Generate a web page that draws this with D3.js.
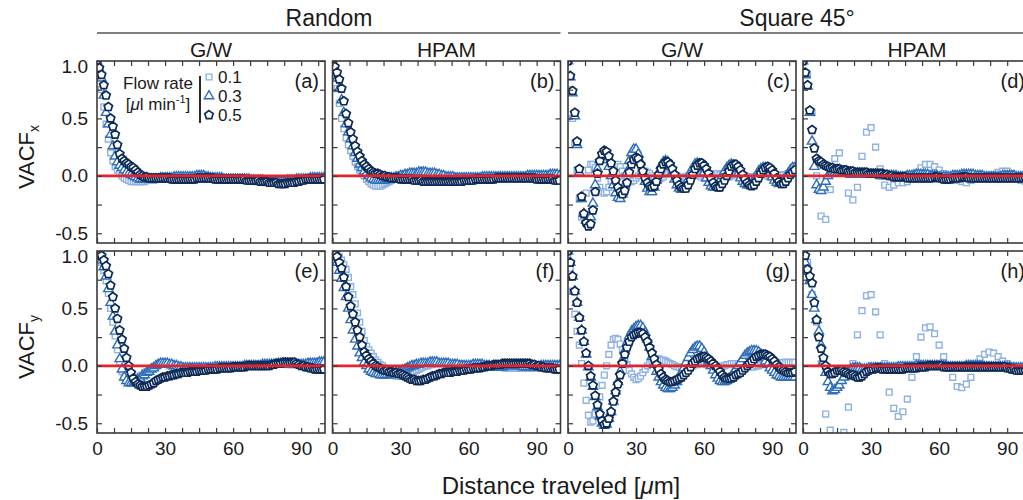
<!DOCTYPE html>
<html>
<head>
<meta charset="utf-8">
<script src="https://d3js.org/d3.v7.min.js"></script>
<style>
body { margin: 0; background: #fff; }
svg { font-family: "Liberation Sans", Arial, Helvetica, sans-serif; }
</style>
</head>
<body>
<svg id="myGraph" width="1023" height="500"></svg>
<script>

// every series is sampled on an even distance grid from 0 to 100 um
// (101 values -> 1 um apart, 51 values -> 2 um apart)
var maxDist = 100
var flowRates = ["0.1", "0.3", "0.5"]
var xTicks = [0, 30, 60, 90]
var yTicks = [-0.5, 0.0, 0.5, 1.0]

// (a) VACFx, Random, G/W
var a01 = [1, .87, .75, .6, .45, .32, .2, .13, .08, .05,
	.02, 0, -.02, -.03, -.04, -.05, -.05, -.05, -.05, -.05,
	-.05, -.05, -.04, -.04, -.04, -.04, -.03, -.03, -.03, -.03,
	-.03, -.03, -.03, -.03, -.03, -.02, -.02, -.02, -.02, -.02,
	-.02, -.02, -.02, -.02, -.02, -.02, -.03, -.03, -.03, -.03,
	-.03, -.03, -.03, -.03, -.03, -.03, -.03, -.03, -.03, -.03,
	-.03, -.03, -.03, -.03, -.04, -.04, -.04, -.04, -.04, -.04,
	-.05, -.05, -.05, -.05, -.06, -.06, -.06, -.06, -.06, -.06,
	-.06, -.06, -.05, -.05, -.05, -.05, -.04, -.04, -.04, -.04,
	-.03, -.03, -.03, -.03, -.03, -.03, -.03, -.03, -.03, -.03, -.03]
var a03 = [1, .93, .85, .7, .55, .45, .36, .26, .17, .12,
	.09, .07, .05, .03, .02, .01, 0, -.01, -.02, -.03,
	-.03, -.03, -.03, -.03, -.03, -.03, -.03, -.03, -.02, -.02,
	-.02, -.02, -.02, -.02, -.01, -.01, -.01, -.01, -.01, -.01,
	-.01, -.01, -.01, -.01, 0, 0, 0, 0, -.01, -.01,
	-.02, -.02, -.02, -.02, -.02, -.02, -.03, -.03, -.03, -.03,
	-.03, -.03, -.03, -.03, -.03, -.03, -.03, -.03, -.04, -.04,
	-.04, -.04, -.04, -.04, -.05, -.05, -.05, -.05, -.05, -.05,
	-.05, -.05, -.05, -.05, -.04, -.04, -.04, -.04, -.03, -.03,
	-.03, -.03, -.03, -.03, -.02, -.02, -.02, -.02, -.02, -.02, -.02]
var a05 = [1, .94, .88, .79, .7, .6, .5, .43, .36, .27,
	.19, .15, .13, .11, .1, .08, .07, .05, .03, .01,
	0, -.01, -.01, -.02, -.02, -.02, -.02, -.02, -.02, -.02,
	-.02, -.02, -.02, -.03, -.03, -.03, -.03, -.03, -.03, -.03,
	-.03, -.03, -.03, -.03, -.02, -.02, -.02, -.02, -.02, -.02,
	-.02, -.02, -.03, -.03, -.03, -.03, -.03, -.03, -.03, -.03,
	-.03, -.03, -.03, -.03, -.03, -.03, -.04, -.04, -.04, -.04,
	-.04, -.04, -.05, -.05, -.05, -.05, -.06, -.06, -.06, -.06,
	-.07, -.07, -.07, -.07, -.06, -.06, -.06, -.06, -.05, -.05,
	-.04, -.04, -.03, -.03, -.03, -.03, -.03, -.03, -.03, -.03, -.03]

// (b) VACFx, Random, HPAM
var b01 = [1, .88, .76, .63, .5, .41, .33, .27, .22, .17,
	.12, .08, .05, .02, 0, -.03, -.05, -.07, -.08, -.09,
	-.09, -.09, -.08, -.07, -.06, -.05, -.04, -.03, -.02, -.02,
	-.01, -.01, 0, 0, .01, .01, .02, .02, .02, .02,
	.02, .02, .02, .02, .02, .01, .01, 0, 0, 0,
	-.01, -.01, -.01, -.01, -.02, -.02, -.02, -.02, -.02, -.02,
	-.02, -.02, -.02, -.02, -.02, -.02, -.02, -.02, -.02, -.02,
	-.02, -.02, -.02, -.02, -.02, -.02, -.02, -.02, -.02, -.02,
	-.02, -.02, -.01, -.01, -.01, -.01, -.01, -.01, -.01, -.01,
	-.01, -.01, 0, 0, 0, 0, 0, 0, .01, .01, .01]
var b03 = [1, .93, .85, .76, .66, .55, .45, .38, .32, .26,
	.2, .15, .1, .07, .04, .02, 0, -.02, -.03, -.04,
	-.04, -.04, -.04, -.04, -.03, -.03, -.02, -.02, -.01, -.01,
	0, 0, .01, .01, .02, .02, .02, .02, .03, .03,
	.03, .03, .02, .02, .02, .02, .01, .01, 0, 0,
	-.01, -.01, -.01, -.01, -.02, -.02, -.02, -.02, -.02, -.02,
	-.02, -.02, -.02, -.02, -.02, -.02, -.01, -.01, -.01, -.01,
	-.01, -.01, -.01, -.01, -.01, -.01, -.01, -.01, -.01, -.01,
	-.01, -.01, -.01, -.01, -.01, -.01, 0, 0, 0, 0,
	0, 0, 0, 0, 0, 0, .01, .01, .01, .01, 0]
var b05 = [1, .95, .9, .84, .76, .65, .54, .46, .38, .32,
	.26, .21, .17, .13, .1, .08, .06, .04, .03, .02,
	.02, .01, 0, 0, -.01, -.01, -.02, -.02, -.02, -.02,
	-.03, -.03, -.03, -.03, -.03, -.03, -.04, -.04, -.04, -.04,
	-.05, -.05, -.05, -.05, -.05, -.05, -.05, -.05, -.05, -.05,
	-.05, -.05, -.05, -.05, -.05, -.05, -.05, -.05, -.04, -.04,
	-.04, -.04, -.04, -.03, -.03, -.03, -.03, -.03, -.03, -.03,
	-.03, -.03, -.02, -.02, -.02, -.02, -.02, -.02, -.02, -.02,
	-.02, -.02, -.02, -.02, -.02, -.02, -.02, -.02, -.02, -.02,
	-.03, -.03, -.03, -.03, -.03, -.03, -.03, -.03, -.04, -.04, -.04]

// (c) VACFx, Square 45, G/W
var c01 = [1, .75, .5, .28, .05, -.2, -.36, -.35, -.15, .05,
	.1, .1, .07, -.02, -.1, -.14, -.15, -.14, -.1, -.04,
	.02, .07, .1, .08, .04, 0, -.03, -.05, -.05, -.04,
	-.02, 0, .02, .03, .04, .03, .02, 0, -.02, -.03,
	-.03, -.02, -.01, .01, .02, .02, .02, .01, 0, -.01,
	-.02, -.02, -.01, 0, .01, .02, .02, .01, 0, -.01,
	-.02, -.02, -.01, 0, .01, .02, .02, .01, 0, -.01,
	-.01, -.01, 0, .01, .01, .01, .01, 0, 0, -.01,
	-.01, -.01, -.01, 0, .01, .01, .01, .01, 0, 0,
	-.01, -.01, -.01, 0, 0, .01, .01, .02, .02, .02, .02]
var c03 = [1, .86, .72, .52, .27, .03, -.2, -.33, -.39, -.4,
	-.36, -.24, -.08, .06, .14, .17, .17, .14, .08, 0,
	-.08, -.15, -.19, -.2, -.16, -.08, .03, .13, .2, .23,
	.23, .19, .12, .03, -.05, -.11, -.14, -.14, -.1, -.04,
	.03, .09, .12, .13, .12, .08, .03, -.03, -.08, -.11,
	-.12, -.11, -.08, -.03, .03, .07, .1, .11, .1, .07,
	.03, -.02, -.06, -.09, -.1, -.1, -.08, -.04, 0, .04,
	.07, .09, .1, .09, .06, .02, -.02, -.05, -.07, -.08,
	-.08, -.07, -.04, 0, .04, .06, .07, .07, .05, .02,
	-.01, -.04, -.06, -.07, -.06, -.04, -.01, .02, .05, .07, .07]
var c05 = [1, .87, .74, .55, .3, .06, -.18, -.33, -.41, -.44,
	-.42, -.3, -.14, .02, .13, .19, .22, .21, .17, .11,
	.04, -.04, -.1, -.14, -.16, -.13, -.06, .03, .1, .14,
	.16, .15, .1, .04, -.02, -.06, -.09, -.1, -.09, -.05,
	.01, .06, .1, .12, .12, .1, .06, .01, -.04, -.08,
	-.1, -.11, -.11, -.08, -.04, .01, .06, .09, .11, .11,
	.09, .06, .02, -.02, -.06, -.09, -.1, -.1, -.07, -.04,
	0, .04, .08, .1, .1, .08, .05, .01, -.03, -.06,
	-.08, -.09, -.08, -.05, -.02, .02, .05, .07, .08, .07,
	.05, .02, -.02, -.05, -.07, -.07, -.05, -.02, .01, .03, .05]

// (d) VACFx, Square 45, HPAM  (0.1 read every 2 um)
var d01 = [1, .88, .55, 0, -.35, -.38, -.12, .15, .2, .06,
	-.15, -.21, -.1, .17, .38, .42, .25, .06, -.08, -.1,
	-.08, -.06, -.06, -.05, -.02, .03, .07, .1, .1, .08,
	.05, .02, 0, -.02, -.04, -.05, -.06, -.04, -.01, 0,
	0, 0, .01, .03, .04, .04, .02, -.01, -.04, -.05, -.04]
var d03 = [1, .88, .78, .55, .3, .08, -.08, -.12, -.13, -.1,
	-.05, 0, .02, .03, .03, .02, .02, .02, .02, .02,
	.02, .01, .01, .01, .01, .01, .01, .01, .01, .01,
	.01, .01, .01, .01, 0, 0, 0, 0, 0, 0,
	0, 0, -.01, -.01, -.01, -.01, 0, 0, 0, 0,
	.01, .01, .01, .01, .01, .01, 0, 0, 0, 0,
	-.01, -.01, -.01, -.01, -.01, -.01, 0, 0, 0, 0,
	.01, .01, .01, .01, .01, .01, 0, 0, 0, 0,
	-.01, -.01, -.01, -.01, -.01, -.01, -.01, -.01, 0, 0,
	0, 0, 0, 0, -.01, -.01, -.01, -.01, -.01, -.01, -.01]
var d05 = [1, .9, .79, .57, .4, .24, .15, .13, .12, .1,
	.09, .08, .07, .07, .06, .06, .06, .05, .05, .05,
	.04, .04, .04, .03, .03, .03, .03, .03, .03, .02,
	.02, .02, .02, .02, .02, .02, .01, .01, 0, 0,
	-.01, -.01, -.01, -.01, -.01, -.01, -.02, -.02, -.02, -.02,
	-.02, -.02, -.02, -.02, -.02, -.02, -.02, -.02, -.01, -.01,
	-.02, -.02, -.03, -.03, -.03, -.03, -.02, -.02, -.02, -.02,
	-.01, -.01, -.01, -.02, -.02, -.02, -.02, -.02, -.02, -.02,
	-.02, -.02, -.02, -.02, -.02, -.02, -.02, -.02, -.02, -.02,
	-.02, -.02, -.02, -.02, -.02, -.02, -.02, -.02, -.02, -.02, -.02]

// (e) VACFy, Random, G/W
var e01 = [1, .96, .9, .83, .74, .63, .5, .38, .26, .14,
	.03, -.05, -.1, -.12, -.13, -.13, -.12, -.11, -.1, -.09,
	-.08, -.06, -.05, -.03, -.02, -.01, 0, .01, .02, .02,
	.02, .01, 0, -.01, -.02, -.03, -.03, -.03, -.03, -.03,
	-.03, -.03, -.02, -.02, -.02, -.02, -.02, -.02, -.02, -.02,
	-.02, -.01, -.01, -.01, -.01, -.01, -.01, -.01, -.01, -.01,
	-.01, -.01, 0, 0, 0, 0, 0, 0, 0, 0,
	0, 0, .01, .01, .01, .01, .01, .01, .02, .02,
	.02, .02, .02, .02, .01, .01, .01, .01, .01, .01,
	.01, .01, .02, .02, .03, .03, .03, .03, .04, .04, .04]
var e03 = [1, .96, .92, .86, .78, .67, .55, .43, .3, .18,
	.06, -.03, -.1, -.13, -.15, -.15, -.15, -.14, -.12, -.11,
	-.09, -.08, -.06, -.05, -.03, -.02, 0, .01, .02, .02,
	.02, .02, .01, .01, 0, 0, -.01, -.01, -.02, -.02,
	-.02, -.02, -.02, -.02, -.02, -.02, -.02, -.02, -.02, -.02,
	-.02, -.02, -.01, -.01, -.01, -.01, -.01, -.01, -.01, -.01,
	-.01, -.01, -.01, -.01, -.01, 0, 0, 0, 0, 0,
	0, 0, 0, .01, .01, .01, .01, .01, .01, .01,
	.02, .02, .02, .02, .01, .01, .01, .01, .01, .01,
	.01, .01, .01, .02, .02, .02, .02, .02, .03, .03, .03]
var e05 = [1, .98, .96, .92, .87, .8, .7, .6, .5, .41,
	.31, .23, .15, .07, 0, -.06, -.11, -.14, -.16, -.17,
	-.18, -.18, -.18, -.17, -.16, -.15, -.13, -.12, -.11, -.1,
	-.1, -.09, -.09, -.08, -.08, -.07, -.07, -.06, -.06, -.06,
	-.06, -.05, -.05, -.05, -.05, -.04, -.04, -.04, -.04, -.03,
	-.03, -.03, -.03, -.03, -.02, -.02, -.02, -.02, -.02, -.02,
	-.01, -.01, -.01, -.01, -.01, -.01, 0, 0, 0, 0,
	0, 0, 0, 0, 0, 0, 0, .01, .01, .02,
	.02, .02, .03, .03, .03, .03, .03, .03, .02, .01,
	0, 0, -.01, -.01, -.02, -.02, -.03, -.03, -.03, -.03, -.03]

// (f) VACFy, Random, HPAM
var f01 = [1, .99, .97, .95, .92, .88, .84, .77, .69, .62,
	.54, .46, .38, .3, .22, .17, .14, .11, .08, .05,
	.03, .01, 0, -.02, -.04, -.06, -.07, -.08, -.09, -.09,
	-.09, -.09, -.08, -.08, -.07, -.06, -.05, -.04, -.03, -.02,
	-.01, 0, 0, .01, .01, .02, .02, .02, .02, .02,
	.02, .02, .02, .02, .02, .02, .02, .01, .01, .01,
	.01, 0, 0, 0, -.01, -.01, -.01, -.01, -.01, -.01,
	-.01, -.01, -.01, -.01, -.01, -.01, -.02, -.02, -.02, -.02,
	-.02, -.02, -.02, -.02, -.02, -.02, -.02, -.02, -.02, -.02,
	-.02, -.02, -.02, -.02, -.02, -.02, -.02, -.02, -.01, -.01, -.01]
var f03 = [1, .95, .9, .83, .76, .68, .6, .5, .4, .31,
	.23, .17, .11, .07, .03, 0, -.03, -.05, -.06, -.07,
	-.07, -.08, -.08, -.08, -.08, -.08, -.07, -.07, -.06, -.06,
	-.05, -.04, -.03, -.02, -.01, 0, 0, .01, .01, .02,
	.02, .02, .02, .03, .03, .03, .03, .02, .02, .02,
	.02, .02, .01, .01, .01, .01, 0, 0, 0, 0,
	0, 0, .01, .01, .01, .01, .01, 0, 0, 0,
	-.01, -.01, -.01, -.01, -.01, -.01, 0, 0, 0, 0,
	0, 0, 0, 0, -.01, -.01, -.01, -.01, -.01, -.01,
	-.01, -.01, 0, 0, 0, 0, 0, 0, 0, 0, 0]
var f05 = [1, .98, .95, .9, .85, .77, .69, .6, .52, .45,
	.38, .31, .25, .18, .12, .09, .06, .04, .02, 0,
	-.01, -.02, -.03, -.04, -.04, -.05, -.05, -.06, -.06, -.07,
	-.07, -.08, -.09, -.1, -.11, -.12, -.12, -.13, -.13, -.13,
	-.12, -.12, -.11, -.1, -.09, -.09, -.08, -.07, -.07, -.06,
	-.06, -.06, -.06, -.05, -.05, -.05, -.04, -.04, -.04, -.03,
	-.03, -.03, -.02, -.02, -.02, -.02, -.01, -.01, 0, 0,
	0, .01, .01, .01, .01, .02, .02, .02, .02, .02,
	.02, .02, .02, .02, .02, .02, .02, .02, .01, .01,
	0, 0, -.01, -.01, -.02, -.02, -.02, -.02, -.03, -.03, -.03]

// (g) VACFy, Square 45, G/W
var g01 = [1, .85, .65, .45, .3, .18, .02, -.15, -.3, -.43,
	-.49, -.48, -.42, -.34, -.27, -.17, -.08, 0, .1, .18,
	.23, .24, .23, .19, .14, .07, .01, -.04, -.07, -.1,
	-.12, -.11, -.09, -.06, -.03, 0, .02, .04, .05, .06,
	.06, .05, .05, .04, .03, .02, .01, 0, -.01, -.01,
	-.02, -.02, -.01, -.01, 0, 0, .01, .01, .02, .02,
	.02, .01, .01, 0, 0, -.01, -.01, -.01, 0, 0,
	.01, .01, .02, .02, .02, .02, .02, .01, .01, 0,
	0, -.01, -.01, 0, 0, .01, .01, .02, .02, .02,
	.02, .02, .02, .02, .02, .03, .03, .03, .03, .03, .03]
var g03 = [1, .9, .78, .65, .55, .42, .31, .21, .1, -.01,
	-.1, -.18, -.27, -.36, -.44, -.5, -.52, -.51, -.46, -.4,
	-.31, -.22, -.14, -.05, .05, .13, .2, .26, .3, .32,
	.34, .35, .35, .33, .29, .23, .16, .08, .01, -.05,
	-.1, -.14, -.17, -.19, -.2, -.2, -.19, -.17, -.14, -.1,
	-.06, -.02, .03, .07, .11, .14, .16, .17, .17, .15,
	.12, .08, .04, 0, -.04, -.08, -.11, -.13, -.14, -.14,
	-.13, -.11, -.09, -.06, -.03, 0, .03, .06, .09, .11,
	.12, .13, .13, .13, .12, .1, .07, .04, .01, -.02,
	-.04, -.06, -.08, -.09, -.1, -.1, -.1, -.1, -.1, -.1, -.1]
var g05 = [1, .9, .78, .65, .55, .42, .31, .21, .11, 0,
	-.09, -.17, -.26, -.34, -.42, -.48, -.51, -.5, -.46, -.4,
	-.31, -.23, -.16, -.08, .02, .1, .16, .21, .25, .27,
	.28, .29, .29, .28, .25, .21, .16, .11, .06, .01,
	-.03, -.07, -.1, -.12, -.13, -.14, -.14, -.13, -.12, -.11,
	-.1, -.08, -.06, -.04, -.01, .02, .04, .06, .07, .08,
	.08, .07, .06, .04, .02, 0, -.02, -.05, -.08, -.1,
	-.11, -.11, -.11, -.1, -.08, -.07, -.06, -.04, -.02, 0,
	.02, .04, .06, .08, .09, .1, .1, .1, .09, .08,
	.06, .04, .01, -.01, -.03, -.04, -.05, -.06, -.06, -.06, -.05]

// (h) VACFy, Square 45, HPAM  (0.1 read every 2 um)
var h01 = [1, .9, .62, .38, .02, -.42, -.56, -.72, -.72, -.58,
	-.36, .02, .27, .48, .61, .62, .47, .27, .02, -.23,
	-.37, -.44, -.4, -.29, -.1, .08, .25, .33, .34, .28,
	.18, .08, -.02, -.1, -.18, -.19, -.16, -.1, -.02, .06,
	.1, .12, .11, .08, .04, .02, 0, -.01, -.01, -.01, -.01]
var h03 = [1, .9, .82, .74, .62, .5, .4, .3, .18, .04,
	-.06, -.14, -.19, -.22, -.21, -.19, -.17, -.13, -.1, -.07,
	-.05, -.03, -.02, -.02, -.02, -.02, -.03, -.03, -.03, -.02,
	-.02, -.02, -.02, -.02, -.02, -.02, -.02, -.02, -.02, -.02,
	-.02, -.02, -.01, -.01, -.01, -.01, -.01, -.01, -.01, -.01,
	0, 0, 0, 0, 0, 0, 0, 0, 0, 0,
	0, 0, 0, 0, -.01, -.01, -.01, -.01, -.01, -.01,
	-.01, -.01, 0, 0, 0, 0, 0, 0, 0, 0,
	-.01, -.01, -.01, -.01, -.01, -.01, -.01, -.01, -.01, -.01,
	-.01, -.01, -.02, -.02, -.02, -.02, -.02, -.02, -.02, -.02, -.02]
var h05 = [1, .96, .84, .78, .72, .55, .4, .25, .15, .07,
	0, -.05, -.07, -.07, -.06, -.04, -.04, -.04, -.05, -.06,
	-.07, -.08, -.08, -.09, -.1, -.1, -.09, -.07, -.05, -.04,
	-.03, -.03, -.02, -.02, -.02, -.03, -.03, -.03, -.03, -.03,
	-.03, -.03, -.03, -.03, -.03, -.02, -.02, -.02, -.02, -.02,
	-.02, -.01, -.01, -.01, -.01, 0, 0, 0, 0, 0,
	0, 0, -.01, -.01, -.01, -.01, -.01, -.01, -.01, -.01,
	-.01, -.01, -.01, -.01, -.01, -.01, -.01, -.01, -.01, -.01,
	-.01, -.01, -.01, -.01, -.01, -.01, -.01, -.01, -.01, -.01,
	-.02, -.02, -.03, -.03, -.04, -.04, -.04, -.04, -.04, -.04, -.04]

// 패널 배치
var panels = [
	{ tag: "(a)", col: 0, row: 0, series: [a01, a03, a05] },
	{ tag: "(b)", col: 1, row: 0, series: [b01, b03, b05] },
	{ tag: "(c)", col: 2, row: 0, series: [c01, c03, c05] },
	{ tag: "(d)", col: 3, row: 0, series: [d01, d03, d05] },
	{ tag: "(e)", col: 0, row: 1, series: [e01, e03, e05] },
	{ tag: "(f)", col: 1, row: 1, series: [f01, f03, f05] },
	{ tag: "(g)", col: 2, row: 1, series: [g01, g03, g05] },
	{ tag: "(h)", col: 3, row: 1, series: [h01, h03, h05] }
]

var colLeft = [97, 332.5, 568, 803]
var rowTop = [61, 251]
var panelW = 228
var panelH = 182
var frameColor = "#3a3a3a"
var textColor = "#1a1a1a"
var colors = ["#8db2e2", "#2d6dba", "#0c2a55"]

// pentagon symbol (d3 has none)
var symbolPentagon = {
	draw: function(context, size) {
		var r = Math.sqrt(size / 2.378)
		for (var k = 0; k < 5; k++) {
			var a = -Math.PI / 2 + k * 2 * Math.PI / 5
			if (k == 0) context.moveTo(r * Math.cos(a), r * Math.sin(a))
			else context.lineTo(r * Math.cos(a), r * Math.sin(a))
		}
		context.closePath()
	}
}
var symbols = [
	d3.symbol().type(d3.symbolSquare).size(34),
	d3.symbol().type(d3.symbolTriangle).size(38),
	d3.symbol().type(symbolPentagon).size(46)
]
var strokeW = [1.4, 1.4, 1.7]

var svg = d3.select("#myGraph")

panels.forEach(function(p, pi) {
	var x0 = colLeft[p.col], y0 = rowTop[p.row]
	var xScale = d3.scaleLinear().domain([0, 100.5]).range([x0, x0 + panelW])
	var yScale = d3.scaleLinear().domain([-0.585, 1.0]).range([y0 + panelH, y0])

	svg.append("clipPath").attr("id", "clip" + pi)
		.append("rect")
		.attr("x", x0).attr("y", y0)
		.attr("width", panelW).attr("height", panelH)

	var g = svg.append("g")

	// 데이터 마커
	var plot = g.append("g").attr("clip-path", "url(#clip" + pi + ")")
	p.series.forEach(function(vals, si) {
		var dx = maxDist / (vals.length - 1)
		plot.append("g")
			.selectAll("path")
			.data(vals)
			.enter()
			.append("path")
			.attr("d", symbols[si])
			.attr("transform", function(d, i) { return "translate(" + xScale(i * dx) + "," + yScale(d) + ")" })
			.attr("fill", "#fff")
			.attr("stroke", colors[si])
			.attr("stroke-width", strokeW[si])
	})

	// zero line
	plot.append("line")
		.attr("x1", xScale(0)).attr("x2", xScale(100.5))
		.attr("y1", yScale(0)).attr("y2", yScale(0))
		.attr("stroke", "#e6232b")
		.attr("stroke-width", 2.6)

	// 축
	var xTickVals = d3.range(0, 100, 7.5)
	var yTickVals = d3.range(-0.5, 1.01, 0.25)
	var showX = p.row == 1
	var showY = p.col == 0

	var bottom = d3.axisBottom(xScale).tickValues(xTickVals)
		.tickSizeInner(-5).tickSizeOuter(0).tickPadding(9)
		.tickFormat(function(d) { return showX && xTicks.indexOf(d) >= 0 ? d : "" })
	var top = d3.axisTop(xScale).tickValues(xTickVals)
		.tickSizeInner(-5).tickSizeOuter(0).tickFormat("")
	var left = d3.axisLeft(yScale).tickValues(yTickVals)
		.tickSizeInner(-5).tickSizeOuter(0).tickPadding(9)
		.tickFormat(function(d) {
			var hit = yTicks.some(function(t) { return Math.abs(t - d) < 1e-9 })
			return showY && hit ? d.toFixed(1) : ""
		})
	var right = d3.axisRight(yScale).tickValues(yTickVals)
		.tickSizeInner(-5).tickSizeOuter(0).tickFormat("")

	var axes = [
		[bottom, "translate(0," + (y0 + panelH) + ")"],
		[top, "translate(0," + y0 + ")"],
		[left, "translate(" + x0 + ",0)"],
		[right, "translate(" + (x0 + panelW) + ",0)"]
	]
	axes.forEach(function(a) {
		var ag = g.append("g").attr("transform", a[1]).call(a[0])
		ag.select(".domain").remove()
		ag.selectAll("line").attr("stroke", frameColor).attr("stroke-width", 1.2)
		ag.selectAll("text").attr("fill", textColor).attr("font-size", 19)
			.attr("font-family", "Liberation Sans, Arial, sans-serif")
	})
	// top label 1.0 sits a little lower, as in the figure
	g.selectAll("text").filter(function() { return this.textContent == "1.0" })
		.attr("dy", "0.62em")

	g.append("rect")
		.attr("x", x0).attr("y", y0)
		.attr("width", panelW).attr("height", panelH)
		.attr("fill", "none")
		.attr("stroke", frameColor)
		.attr("stroke-width", 1.6)

	g.append("text")
		.attr("x", x0 + panelW - 6).attr("y", y0 + 27)
		.attr("text-anchor", "end")
		.attr("font-size", 20)
		.attr("fill", textColor)
		.text(p.tag)
})

// 상단 제목
var groups = [
	{ label: "Random", x1: colLeft[0], x2: colLeft[1] + panelW, cx: 329 },
	{ label: "Square 45°", x1: colLeft[2], x2: 1023, cx: 797 }
]
groups.forEach(function(gr) {
	svg.append("text")
		.attr("x", gr.cx)
		.attr("y", 26)
		.attr("text-anchor", "middle")
		.attr("font-size", 23)
		.attr("fill", textColor)
		.text(gr.label)
	svg.append("line")
		.attr("x1", gr.x1).attr("x2", gr.x2)
		.attr("y1", 33).attr("y2", 33)
		.attr("stroke", "#555")
		.attr("stroke-width", 1.6)
})
var fluids = ["G/W", "HPAM", "G/W", "HPAM"]
fluids.forEach(function(f, i) {
	svg.append("text")
		.attr("x", colLeft[i] + panelW / 2)
		.attr("y", 57)
		.attr("text-anchor", "middle")
		.attr("font-size", 21)
		.attr("fill", textColor)
		.text(f)
})

// y축 레이블
var comps = ["x", "y"]
comps.forEach(function(c, i) {
	var t = svg.append("text")
		.attr("transform", "translate(34," + (rowTop[i] + 96) + ") rotate(-90)")
		.attr("text-anchor", "middle")
		.attr("font-size", 22)
		.attr("fill", textColor)
	t.append("tspan").text("VACF")
	t.append("tspan").attr("font-size", 14).attr("dy", 5).text(c)
})

// x축 레이블
var xt = svg.append("text")
	.attr("x", 561).attr("y", 494)
	.attr("text-anchor", "middle")
	.attr("font-size", 24)
	.attr("fill", textColor)
xt.append("tspan").text("Distance traveled [")
xt.append("tspan").attr("font-style", "italic").text("μ")
xt.append("tspan").text("m]")

// 범례
var leg = svg.append("g")
leg.append("text").attr("x", 158).attr("y", 89)
	.attr("text-anchor", "middle").attr("font-size", 17).attr("fill", textColor)
	.text("Flow rate")
var l2 = leg.append("text").attr("x", 158).attr("y", 110)
	.attr("text-anchor", "middle").attr("font-size", 17).attr("fill", textColor)
l2.append("tspan").text("[")
l2.append("tspan").attr("font-style", "italic").text("μ")
l2.append("tspan").text("l min")
l2.append("tspan").attr("font-size", 11).attr("dy", -7).text("-1")
l2.append("tspan").attr("dy", 7).text("]")
leg.append("line")
	.attr("x1", 200).attr("x2", 200).attr("y1", 76).attr("y2", 123)
	.attr("stroke", "#111").attr("stroke-width", 1.8)
flowRates.forEach(function(fr, i) {
	var yy = 77 + i * 19
	leg.append("path")
		.attr("d", symbols[i])
		.attr("transform", "translate(209," + yy + ")")
		.attr("fill", "#fff")
		.attr("stroke", colors[i])
		.attr("stroke-width", strokeW[i])
	leg.append("text")
		.attr("x", 218).attr("y", yy + 6)
		.attr("font-size", 17)
		.attr("fill", textColor)
		.text(fr)
})

</script>
</body>
</html>
